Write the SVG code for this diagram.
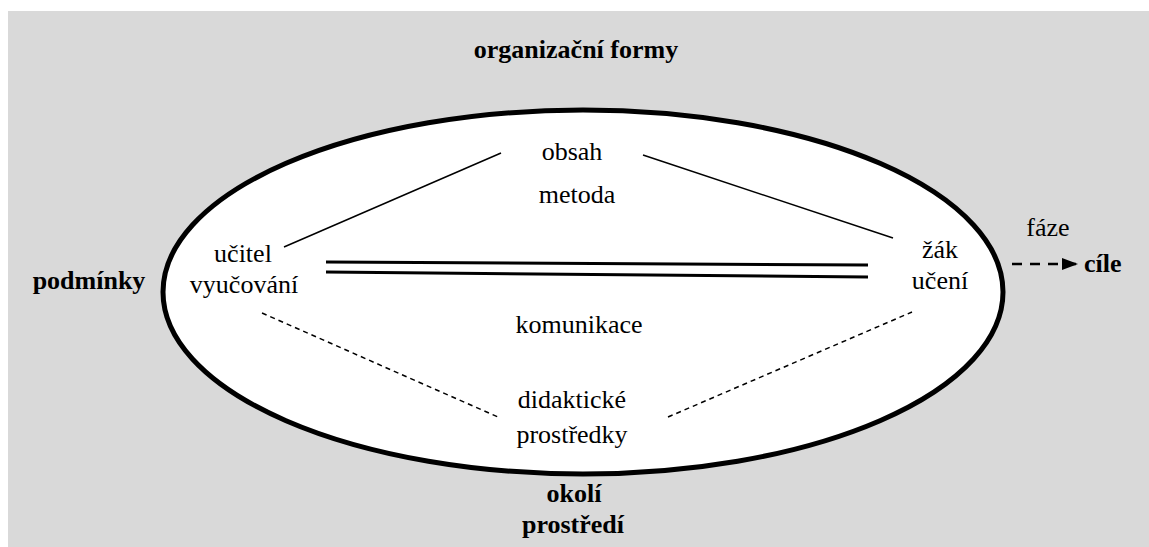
<svg xmlns="http://www.w3.org/2000/svg" width="1149" height="547" viewBox="0 0 1149 547">
<style>
.t{font-family:'Liberation Serif','Times New Roman','DejaVu Serif',serif;font-size:26px;fill:#000;text-anchor:middle}
.b{font-weight:bold}
.ln{stroke:#000;stroke-width:1.5;fill:none}
.dl{stroke:#000;stroke-width:1.5;fill:none;stroke-dasharray:5 4}
.dbl{stroke:#000;stroke-width:3;fill:none}
</style>
<defs>
<marker id="ah2" viewBox="0 0 16 12" markerWidth="16" markerHeight="12" refX="16" refY="6" orient="auto" markerUnits="userSpaceOnUse">
<path d="M0,0 L16,6 L0,12 Z" fill="#000"/>
</marker>
</defs>
<rect x="8" y="11" width="1141" height="536" fill="#d9d9d9"/>
<g id="ellipse"><ellipse cx="583" cy="292" rx="420" ry="182" fill="#fff" stroke="#000" stroke-width="5"/></g>
<g id="connectors">
<line class="ln" x1="501" y1="153" x2="284" y2="247"/>
<line class="ln" x1="643" y1="155" x2="893" y2="238"/>
<line class="dbl" x1="326" y1="262" x2="868" y2="265"/>
<line class="dbl" x1="326" y1="272" x2="868" y2="277"/>
<line class="dl" x1="262" y1="313" x2="498" y2="417"/>
<line class="dl" x1="668" y1="417" x2="912" y2="312"/>
<line x1="1012" y1="264" x2="1078" y2="264" stroke="#000" stroke-width="2.5" stroke-dasharray="10 8" marker-end="url(#ah2)"/>
</g>
<g id="organizacni"><text class="t b" x="576" y="58">organizační formy</text></g>
<g id="obsah"><text class="t" x="572" y="160">obsah</text></g>
<g id="metoda"><text class="t" x="577" y="203">metoda</text></g>
<g id="ucitel"><text class="t" x="243" y="262">učitel</text><text class="t" x="244" y="293">vyučování</text></g>
<g id="zak"><text class="t" x="940" y="258">žák</text><text class="t" x="940" y="289">učení</text></g>
<g id="faze"><text class="t" x="1048" y="236">fáze</text></g>
<g id="cile"><text class="t b" x="1084" y="272" style="text-anchor:start">cíle</text></g>
<g id="podminky"><text class="t b" x="89" y="289">podmínky</text></g>
<g id="komunikace"><text class="t" x="579" y="333">komunikace</text></g>
<g id="didakticke"><text class="t" x="572" y="408">didaktické</text><text class="t" x="572" y="443">prostředky</text></g>
<g id="okoli"><text class="t b" x="574" y="502">okolí</text><text class="t b" x="573" y="533">prostředí</text></g>
</svg>
